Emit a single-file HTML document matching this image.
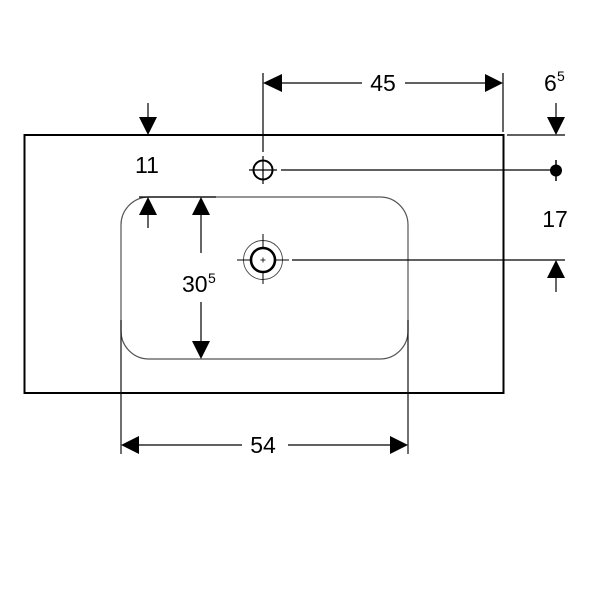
<!DOCTYPE html>
<html><head><meta charset="utf-8"><style>
html,body{margin:0;padding:0;background:#fff;}
svg{display:block;}
text{font-family:"Liberation Sans",sans-serif;fill:#000;}
</style></head><body>
<svg width="600" height="600" viewBox="0 0 600 600" xmlns="http://www.w3.org/2000/svg">
<rect x="0" y="0" width="600" height="600" fill="#fff"/>
<!-- outer slab -->
<rect x="24.5" y="135" width="479" height="258" fill="none" stroke="#000" stroke-width="2"/>
<!-- basin -->
<rect x="121" y="197" width="287" height="162" rx="28" ry="28" fill="none" stroke="#555" stroke-width="1.2"/>
<line x1="139" y1="197" x2="216" y2="197" stroke="#000" stroke-width="1.3"/>
<!-- extension lines bottom -->
<line x1="121" y1="320" x2="121" y2="454" stroke="#111" stroke-width="1.2"/>
<line x1="408" y1="320" x2="408" y2="454" stroke="#111" stroke-width="1.2"/>
<!-- dim 54 -->
<line x1="136" y1="445" x2="242" y2="445" stroke="#000" stroke-width="1.2"/>
<line x1="288" y1="445" x2="392" y2="445" stroke="#000" stroke-width="1.2"/>
<polygon points="121,445 139,436 139,454" fill="#000"/>
<polygon points="408,445 390,436 390,454" fill="#000"/>
<text x="263" y="453" font-size="23" text-anchor="middle">54</text>
<!-- dim 30.5 -->
<line x1="201" y1="212" x2="201" y2="253" stroke="#000" stroke-width="1.2"/>
<polygon points="201,197 192,215 210,215" fill="#000"/>
<line x1="201" y1="302" x2="201" y2="344" stroke="#000" stroke-width="1.2"/>
<polygon points="201,359 192,341 210,341" fill="#000"/>
<text x="182" y="292" font-size="23">30</text>
<text x="208" y="283" font-size="14">5</text>
<!-- dim 11 -->
<line x1="148" y1="103" x2="148" y2="120" stroke="#000" stroke-width="1.2"/>
<polygon points="148,135 139,117 157,117" fill="#000"/>
<line x1="148" y1="212" x2="148" y2="228" stroke="#000" stroke-width="1.2"/>
<polygon points="148,197 139,215 157,215" fill="#000"/>
<text x="147" y="173" font-size="23" text-anchor="middle">11</text>
<!-- tap hole -->
<circle cx="263" cy="170" r="9.5" fill="none" stroke="#000" stroke-width="2"/>
<line x1="249" y1="170" x2="277" y2="170" stroke="#000" stroke-width="1.2"/>
<line x1="263" y1="156" x2="263" y2="184" stroke="#000" stroke-width="1.2"/>
<line x1="263" y1="73" x2="263" y2="152" stroke="#000" stroke-width="1.2"/>
<line x1="281" y1="170" x2="556" y2="170" stroke="#000" stroke-width="1.2"/>
<!-- dim 45 -->
<line x1="278" y1="83" x2="362" y2="83" stroke="#000" stroke-width="1.2"/>
<line x1="405" y1="83" x2="488" y2="83" stroke="#000" stroke-width="1.2"/>
<polygon points="263,83 282,74 282,92" fill="#000"/>
<polygon points="503,83 485,74 485,92" fill="#000"/>
<line x1="503" y1="73" x2="503" y2="132" stroke="#000" stroke-width="1.2"/>
<text x="383" y="91" font-size="23" text-anchor="middle">45</text>
<!-- dim 6.5 -->
<text x="544" y="91" font-size="23">6</text>
<text x="557" y="81" font-size="14">5</text>
<line x1="507" y1="135" x2="565" y2="135" stroke="#000" stroke-width="1.2"/>
<line x1="556" y1="103" x2="556" y2="120" stroke="#000" stroke-width="1.2"/>
<polygon points="556,135 547,117 565,117" fill="#000"/>
<circle cx="556" cy="170.5" r="6" fill="#000"/>
<line x1="556" y1="160" x2="556" y2="181" stroke="#000" stroke-width="1.5"/>
<!-- dim 17 -->
<text x="555" y="227" font-size="23" text-anchor="middle">17</text>
<line x1="292" y1="260" x2="565" y2="260" stroke="#000" stroke-width="1.2"/>
<polygon points="556,260 547,278 565,278" fill="#000"/>
<line x1="556" y1="275" x2="556" y2="292" stroke="#000" stroke-width="1.2"/>
<!-- drain -->
<circle cx="263" cy="260" r="19.5" fill="none" stroke="#444" stroke-width="0.9"/>
<line x1="237" y1="260" x2="251" y2="260" stroke="#000" stroke-width="1"/>
<line x1="275" y1="260" x2="289" y2="260" stroke="#000" stroke-width="1"/>
<line x1="263" y1="234" x2="263" y2="248" stroke="#000" stroke-width="1"/>
<line x1="263" y1="272" x2="263" y2="284" stroke="#000" stroke-width="1"/>
<circle cx="263" cy="260" r="12" fill="none" stroke="#000" stroke-width="2.6"/>
<line x1="260.5" y1="260" x2="265.5" y2="260" stroke="#000" stroke-width="0.8"/>
<line x1="263" y1="257.5" x2="263" y2="262.5" stroke="#000" stroke-width="0.8"/>
</svg>
</body></html>
